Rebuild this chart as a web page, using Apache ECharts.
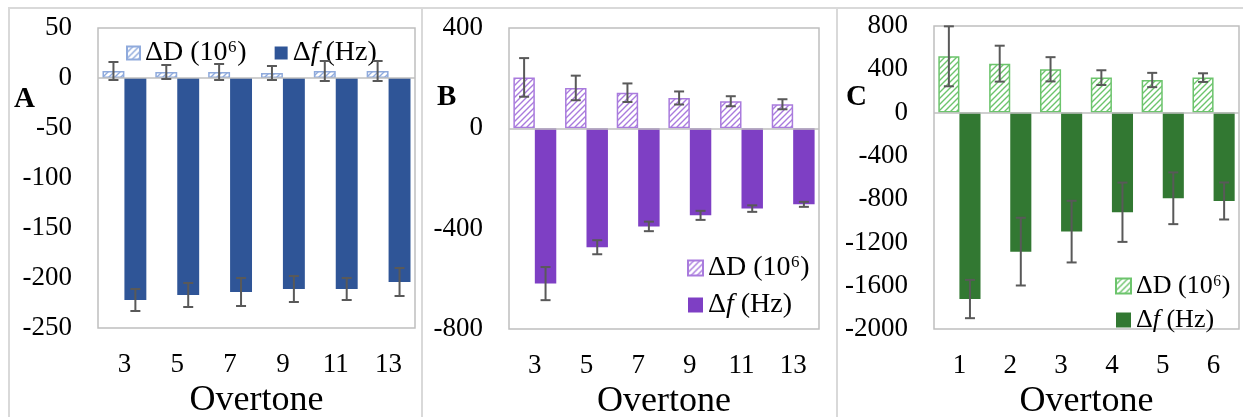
<!DOCTYPE html>
<html>
<head>
<meta charset="utf-8">
<script src="https://cdn.jsdelivr.net/npm/echarts@6/dist/echarts.min.js"></script>
<style>
  html, body { margin: 0; padding: 0; background: #fff; }
  #main { width: 1243px; height: 417px; }
</style>
</head>
<body>
<div id="main"></div>
<script>
// data
const overtoneAB = ["3", "5", "7", "9", "11", "13"];
const overtoneC = ["1", "2", "3", "4", "5", "6"];

const dissA = [7, 6, 6, 5, 7, 7];
const dissAErr = [9, 7, 8, 7, 10, 10];
const freqA = [-222, -217, -214, -211, -211, -204];
const freqAErr = [11, 12, 14, 13, 11, 14];

const dissB = [203, 161, 142, 121, 108, 96];
const dissBErr = [77, 49, 37, 26, 20, 20];
const freqB = [-619, -474, -391, -347, -320, -303];
const freqBErr = [66, 28, 19, 18, 13, 10];

const dissC = [520, 452, 400, 323, 301, 323];
const dissCErr = [277, 166, 112, 68, 66, 40];
const freqC = [-1723, -1285, -1100, -921, -792, -817];
const freqCErr = [177, 313, 285, 274, 239, 171];

const yTicksA = [-250, 50, 50];   // min, max, step
const yTicksB = [-800, 400, 400];
const yTicksC = [-2000, 800, 400];

const FONT = "'Liberation Serif', 'Times New Roman', serif";
const GAP = 0.17;

const hatch = (line) => {
  const c = document.createElement("canvas");
  c.width = 6;
  c.height = 6;
  const ctx = c.getContext("2d");
  ctx.fillStyle = "#fff";
  ctx.fillRect(0, 0, 6, 6);
  ctx.strokeStyle = line;
  ctx.lineWidth = 1.4;
  ctx.beginPath();
  ctx.moveTo(-1, 7); ctx.lineTo(7, -1);
  ctx.moveTo(-4, 4); ctx.lineTo(4, -4);
  ctx.moveTo(2, 10); ctx.lineTo(10, 2);
  ctx.stroke();
  return { image: c, repeat: "repeat" };
};

const errSeries = (idx, vals, errs, side) => ({
  type: "custom",
  xAxisIndex: idx,
  yAxisIndex: idx,
  z: 5,
  silent: true,
  data: vals.map((v, i) => [i, v, errs[i]]),
  encode: { x: 0, y: 1 },
  renderItem(params, api) {
    const i = api.value(0);
    const v = api.value(1);
    const e = api.value(2);
    const band = api.size([1, 0])[0];
    const dx = side * band * (1 - GAP) / 4;
    const top = api.coord([i, v + e]);
    const bot = api.coord([i, v - e]);
    const x = top[0] + dx;
    const c = 5;
    const st = { stroke: "#595959", lineWidth: 2 };
    return {
      type: "group",
      children: [
        { type: "line", shape: { x1: x, y1: top[1], x2: x, y2: bot[1] }, style: st },
        { type: "line", shape: { x1: x - c, y1: top[1], x2: x + c, y2: top[1] }, style: st },
        { type: "line", shape: { x1: x - c, y1: bot[1], x2: x + c, y2: bot[1] }, style: st }
      ]
    };
  }
});

const barPair = (idx, diss, freq, light, dark) => [
  {
    name: "d" + idx,
    type: "bar",
    xAxisIndex: idx,
    yAxisIndex: idx,
    data: diss,
    barGap: "0%",
    barCategoryGap: GAP * 100 + "%",
    itemStyle: { color: hatch(light), borderColor: light, borderWidth: 1.5 }
  },
  {
    name: "f" + idx,
    type: "bar",
    xAxisIndex: idx,
    yAxisIndex: idx,
    data: freq,
    barGap: "0%",
    barCategoryGap: GAP * 100 + "%",
    itemStyle: { color: dark },
    markLine: {
      silent: true,
      symbol: "none",
      label: { show: false },
      lineStyle: { color: "#BFBFBF", width: 1.5, type: "solid" },
      data: [{ yAxis: 0 }]
    }
  }
];

const xAx = (idx, cats) => ({
  type: "category",
  gridIndex: idx,
  data: cats,
  position: "bottom",
  axisLine: { show: false, onZero: false },
  axisTick: { show: false },
  axisLabel: { color: "#000", fontSize: 27, fontFamily: FONT, margin: 23 },
  name: "Overtone",
  nameLocation: "middle",
  nameGap: 55,
  nameTextStyle: { color: "#000", fontSize: 36, fontFamily: FONT }
});

const yAx = (idx, t) => ({
  type: "value",
  gridIndex: idx,
  min: t[0],
  max: t[1],
  interval: t[2],
  axisLine: { show: false },
  axisTick: { show: false },
  splitLine: { show: false },
  axisLabel: { color: "#000", fontSize: 27, fontFamily: FONT, margin: 26, formatter: (v) => String(v) }
});

const legendText = (size) => ({
  color: "#000",
  fontSize: size,
  fontFamily: FONT,
  rich: { i: { fontStyle: "italic", fontSize: size, fontFamily: FONT, color: "#000" } }
});
const legendFmt = (name) => (name[0] === "d" ? "ΔD (10⁶)" : "Δ{i|f} (Hz)");

const gridBox = (left, top, width, height) => ({
  left, top, width, height,
  outerBoundsMode: "none",
  show: true,
  borderColor: "#BFBFBF",
  borderWidth: 1.5
});

const chartDom = echarts.init(document.getElementById("main"));
chartDom.setOption({
  animation: false,
  textStyle: { fontFamily: FONT },
  grid: [gridBox(98, 28, 317, 300), gridBox(509, 28, 310, 301), gridBox(934, 26, 305, 303)],
  xAxis: [xAx(0, overtoneAB), xAx(1, overtoneAB), xAx(2, overtoneC)],
  yAxis: [yAx(0, yTicksA), yAx(1, yTicksB), yAx(2, yTicksC)],
  legend: [
    {
      left: 121, top: 34, orient: "horizontal", icon: "rect",
      itemWidth: 13, itemHeight: 13, itemGap: 28,
      data: ["d0", "f0"], formatter: legendFmt, textStyle: legendText(28)
    },
    {
      left: 682, top: 249, orient: "vertical", icon: "rect",
      itemWidth: 15, itemHeight: 15, itemGap: 9,
      data: ["d1", "f1"], formatter: legendFmt, textStyle: legendText(28)
    },
    {
      left: 1110, top: 268, orient: "vertical", icon: "rect",
      itemWidth: 15, itemHeight: 15, itemGap: 8,
      data: ["d2", "f2"], formatter: legendFmt, textStyle: legendText(26)
    }
  ],
  graphic: [
    { type: "rect", shape: { x: 9, y: 8, width: 413, height: 430 }, style: { fill: "none", stroke: "#D9D9D9", lineWidth: 2 } },
    { type: "rect", shape: { x: 422, y: 8, width: 415, height: 430 }, style: { fill: "none", stroke: "#D9D9D9", lineWidth: 2 } },
    { type: "rect", shape: { x: 837, y: 8, width: 430, height: 430 }, style: { fill: "none", stroke: "#D9D9D9", lineWidth: 2 } },
    { type: "text", left: 14, top: 85, style: { text: "A", font: "bold 29px " + FONT, fill: "#000" } },
    { type: "text", left: 437, top: 83, style: { text: "B", font: "bold 29px " + FONT, fill: "#000" } },
    { type: "text", left: 846, top: 83, style: { text: "C", font: "bold 29px " + FONT, fill: "#000" } }
  ],
  series: [
    ...barPair(0, dissA, freqA, "#8FAADC", "#2F5597"),
    ...barPair(1, dissB, freqB, "#A97BDD", "#7E3FC4"),
    ...barPair(2, dissC, freqC, "#6CC46C", "#327832"),
    errSeries(0, dissA, dissAErr, -1),
    errSeries(0, freqA, freqAErr, 1),
    errSeries(1, dissB, dissBErr, -1),
    errSeries(1, freqB, freqBErr, 1),
    errSeries(2, dissC, dissCErr, -1),
    errSeries(2, freqC, freqCErr, 1)
  ]
});
window.addEventListener("resize", chartDom.resize);
</script>
</body>
</html>
